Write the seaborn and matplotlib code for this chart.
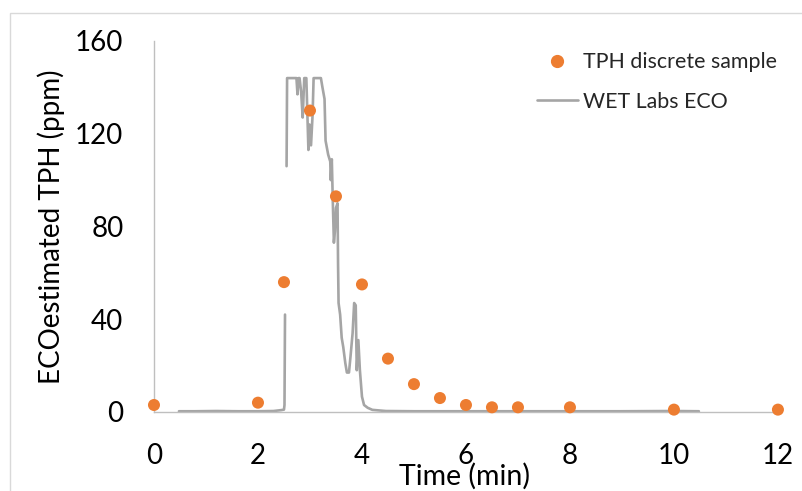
import numpy as np
import pandas as pd
import matplotlib
matplotlib.use("Agg")
import matplotlib.pyplot as plt
import seaborn as sns
from matplotlib.patches import Rectangle
from matplotlib.lines import Line2D

# discrete TPH samples
sample_time = [0, 2, 2.5, 3, 3.5, 4, 4.5, 5, 5.5, 6, 6.5, 7, 8, 10, 12]
sample_ppm = [3, 4, 56, 130, 93, 55, 23, 12, 6, 3, 2, 2, 2, 1, 1]

# WET Labs ECO trace, first part (baseline up to the first spike)
eco_time_a = [0.48, 0.8, 1.2, 1.6, 2.0, 2.3, 2.45, 2.5, 2.51, 2.52]
eco_ppm_a = [0.3, 0.3, 0.4, 0.3, 0.3, 0.4, 0.8, 1.0, 3.0, 42]

# second part (saturated peak, decay and tail)
eco_time_b = [2.55, 2.56, 2.62, 2.68, 2.74, 2.76, 2.78, 2.80, 2.83, 2.86, 2.89,
              2.93, 2.97, 2.99, 3.02, 3.05, 3.07, 3.12, 3.17, 3.21, 3.24, 3.28,
              3.30, 3.35, 3.39, 3.40, 3.42, 3.44, 3.46, 3.48, 3.50, 3.53, 3.54,
              3.55, 3.58, 3.61, 3.64, 3.68, 3.71, 3.75, 3.78, 3.82, 3.85, 3.88,
              3.90, 3.93, 3.96, 4.00, 4.04, 4.11, 4.20, 4.46, 5.0, 6.0, 7.0,
              8.0, 9.0, 10.0, 10.48]
eco_ppm_b = [106, 144, 144, 144, 144, 137, 144, 144, 138, 127, 144,
             144, 113, 124, 115, 128, 144, 144, 144, 144, 140, 135,
             117, 111, 108, 100, 109, 90, 73, 78, 88, 90, 64,
             47, 42, 32, 28, 21, 17, 17, 24, 34, 47, 46,
             18, 31, 18, 6.6, 3, 1.8, 0.9, 0.4, 0.3, 0.3, 0.3,
             0.3, 0.3, 0.4, 0.3]

eco = pd.concat([
    pd.DataFrame({"time": eco_time_a, "ppm": eco_ppm_a, "seg": 0}),
    pd.DataFrame({"time": eco_time_b, "ppm": eco_ppm_b, "seg": 1}),
])
samples = pd.DataFrame({"time": sample_time, "ppm": sample_ppm})

sns.set_style("white")
plt.rcParams["font.family"] = ["Lato", "DejaVu Sans"]

fig = plt.figure(figsize=(8.02, 4.91), dpi=100)
ax = fig.add_axes([0.192, 0.161, 0.778, 0.7555])

sns.lineplot(data=eco, x="time", y="ppm", units="seg", estimator=None, sort=False,
             color="#A5A5A5", linewidth=1.9, ax=ax, zorder=2)
sns.scatterplot(data=samples, x="time", y="ppm", color="#ED7D31", s=75,
                edgecolor="none", ax=ax, zorder=3, clip_on=False)

ax.set_xlim(0, 12)
ax.set_ylim(0, 160)
ax.set_xticks(range(0, 13, 2))
ax.set_yticks(range(0, 161, 40))
ax.tick_params(axis="both", length=0, labelsize=20, labelcolor="black")
ax.tick_params(axis="x", pad=22)
ax.tick_params(axis="y", pad=22)

for side in ["top", "right"]:
    ax.spines[side].set_visible(False)
for side in ["left", "bottom"]:
    ax.spines[side].set_color("#BFBFBF")
    ax.spines[side].set_linewidth(1.0)

ax.set_xlabel("Time (min)", fontsize=20.5, color="black")
ax.set_ylabel("ECOestimated TPH (ppm)", fontsize=20, color="black")
ax.xaxis.set_label_coords(0.498, -0.138)
ax.yaxis.set_label_coords(-0.143, 0.5)

handles = [
    Line2D([], [], marker="o", linestyle="none", color="#ED7D31", markersize=8.5),
    Line2D([], [], color="#A5A5A5", linewidth=1.9),
]
ax.legend(handles, ["TPH discrete sample", "WET Labs ECO"], loc="upper left",
          bbox_to_anchor=(537 / 802, 1 - 52 / 491), bbox_transform=fig.transFigure,
          frameon=False, fontsize=15.4, borderpad=0, borderaxespad=0,
          handlelength=1.9, handletextpad=0.25, labelspacing=0.92)

# light chart frame like the spreadsheet export
fig.patches.append(Rectangle((10 / 802, -0.1), 1.2, 1 - 13 / 491 + 0.1,
                             transform=fig.transFigure, fill=False,
                             edgecolor="#D9D9D9", linewidth=1.0))

fig.savefig("out.png", dpi=100)
